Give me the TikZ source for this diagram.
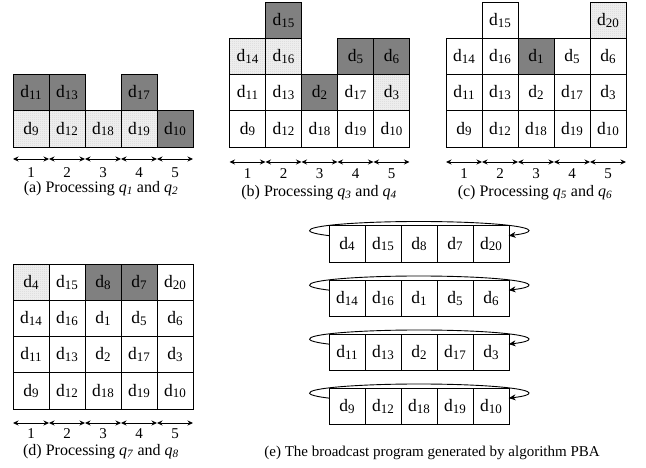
\documentclass[tikz,border=0pt]{standalone}
\usepackage{fontspec}
\setmainfont{Liberation Serif}
\usetikzlibrary{arrows.meta,calc,patterns}

% fine stipple used for the lightly shaded cells
\pgfdeclarepatternformonly{stipple}{\pgfqpoint{0pt}{0pt}}{\pgfqpoint{1.6pt}{2pt}}{\pgfqpoint{1.6pt}{2pt}}%
  {\pgfpathrectangle{\pgfqpoint{0pt}{0pt}}{\pgfqpoint{0.55pt}{1pt}}\pgfusepath{fill}}

% data item label: d with a large, slightly lowered index
\newcommand\dd[1]{d\raisebox{-1.8pt}{\fontsize{13}{13}\selectfont #1}}
\newcommand\qq[1]{\textit{q}\textsubscript{\textit{#1}}}

\tikzset{
  cell/.style={draw=black, line width=0.8pt, minimum width=36pt, minimum height=36.2pt,
    inner sep=0pt, font=\fontsize{17.5}{20}\selectfont},
  wt/.style={fill=white},
  dk/.style={fill=gray},
  lt/.style={preaction={fill=gray!14}, pattern=stipple, pattern color=gray!60},
  dim/.style={{Stealth[length=5.5pt,width=5pt]}-{Stealth[length=5.5pt,width=5pt]}, line width=0.8pt},
  num/.style={inner sep=0pt, font=\fontsize{15}{17}\selectfont},
  captxt/.style={inner sep=0pt, font=\fontsize{16}{18}\selectfont},
  cycarrow/.style={line width=0.9pt, -{Stealth[length=7pt,width=6pt]}}
}

\begin{document}
\begin{tikzpicture}[x=1pt,y=1pt]
\useasboundingbox (0,0) rectangle (646,468);

% ---------- (a) ----------
\foreach \c/\n/\st in {1/9/lt,2/12/lt,3/18/lt,4/19/lt,5/10/dk}
  \node[cell,\st] (a-1-\c) at ({31+36*(\c-1)},339.1) {\dd{\n}};
\foreach \c/\n/\st in {1/11/dk,2/13/dk,4/17/dk}
  \node[cell,\st] (a-2-\c) at ({31+36*(\c-1)},375.3) {\dd{\n}};
\foreach \i in {0,...,5} \coordinate (a-t\i) at ({13+36*\i},309);
\foreach \i [count=\j from 1] in {0,...,4}
  \draw[dim] (a-t\i) -- (a-t\j) node[midway, yshift=-13.6pt, num] (a-n\j) {\j};
\node[captxt] (a-cap) at (101,279.5) {(a) Processing \qq{1} and \qq{2}};

% ---------- (b) ----------
\foreach \c/\n/\st in {1/9/wt,2/12/wt,3/18/wt,4/19/wt,5/10/wt}
  \node[cell,\st] (b-1-\c) at ({247.5+36*(\c-1)},339.1) {\dd{\n}};
\foreach \c/\n/\st in {1/11/wt,2/13/wt,3/2/dk,4/17/wt,5/3/lt}
  \node[cell,\st] (b-2-\c) at ({247.5+36*(\c-1)},375.3) {\dd{\n}};
\foreach \c/\n/\st in {1/14/lt,2/16/lt,4/5/dk,5/6/dk}
  \node[cell,\st] (b-3-\c) at ({247.5+36*(\c-1)},411.5) {\dd{\n}};
\node[cell,dk] (b-4-2) at (283.5,447.7) {\dd{15}};
\foreach \i in {0,...,5} \coordinate (b-t\i) at ({229.5+36*\i},306);
\foreach \i [count=\j from 1] in {0,...,4}
  \draw[dim] (b-t\i) -- (b-t\j) node[midway, yshift=-11.3pt, num] (b-n\j) {\j};
\node[captxt] (b-cap) at (319,275.5) {(b) Processing \qq{3} and \qq{4}};

% ---------- (c) ----------
\foreach \c/\n/\st in {1/9/wt,2/12/wt,3/18/wt,4/19/wt,5/10/wt}
  \node[cell,\st] (c-1-\c) at ({464+36*(\c-1)},339.1) {\dd{\n}};
\foreach \c/\n/\st in {1/11/wt,2/13/wt,3/2/wt,4/17/wt,5/3/wt}
  \node[cell,\st] (c-2-\c) at ({464+36*(\c-1)},375.3) {\dd{\n}};
\foreach \c/\n/\st in {1/14/wt,2/16/wt,3/1/dk,4/5/wt,5/6/wt}
  \node[cell,\st] (c-3-\c) at ({464+36*(\c-1)},411.5) {\dd{\n}};
\node[cell,wt] (c-4-2) at (500,447.7) {\dd{15}};
\node[cell,lt] (c-4-5) at (608,447.7) {\dd{20}};
\foreach \i in {0,...,5} \coordinate (c-t\i) at ({446+36*\i},306);
\foreach \i [count=\j from 1] in {0,...,4}
  \draw[dim] (c-t\i) -- (c-t\j) node[midway, yshift=-11.3pt, num] (c-n\j) {\j};
\node[captxt] (c-cap) at (535,275.5) {(c) Processing \qq{5} and \qq{6}};

% ---------- (d) ----------
\foreach \c/\n/\st in {1/9/wt,2/12/wt,3/18/wt,4/19/wt,5/10/wt}
  \node[cell,\st] (d-1-\c) at ({31+36*(\c-1)},77.1) {\dd{\n}};
\foreach \c/\n/\st in {1/11/wt,2/13/wt,3/2/wt,4/17/wt,5/3/wt}
  \node[cell,\st] (d-2-\c) at ({31+36*(\c-1)},113.3) {\dd{\n}};
\foreach \c/\n/\st in {1/14/wt,2/16/wt,3/1/wt,4/5/wt,5/6/wt}
  \node[cell,\st] (d-3-\c) at ({31+36*(\c-1)},149.5) {\dd{\n}};
\foreach \c/\n/\st in {1/4/lt,2/15/wt,3/8/dk,4/7/dk,5/20/wt}
  \node[cell,\st] (d-4-\c) at ({31+36*(\c-1)},185.7) {\dd{\n}};
\foreach \i in {0,...,5} \coordinate (d-t\i) at ({13+36*\i},45);
\foreach \i [count=\j from 1] in {0,...,4}
  \draw[dim] (d-t\i) -- (d-t\j) node[midway, yshift=-10.6pt, num] (d-n\j) {\j};
\node[captxt] (d-cap) at (101,16.5) {(d) Processing \qq{7} and \qq{8}};

% ---------- (e) broadcast cycles ----------
\foreach \r/\y/\lst in {1/224/{4,15,8,7,20}, 2/169.5/{14,16,1,5,6},
                        3/115.5/{11,13,2,17,3}, 4/61.5/{9,12,18,19,10}} {
  \foreach \n [count=\c] in \lst
    \node[cell,wt] (e\r-\c) at ({347+36*(\c-1)},\y) {\dd{\n}};
  \coordinate (e\r-o) at ($(e\r-1.west)!0.5!(e\r-5.east)+(0,13.5)$);
  \draw[cycarrow] ($(e\r-o)+(215:109.5 and 9)$) arc[start angle=215, end angle=-35, x radius=109.5, y radius=9];
}
\node[captxt, font=\fontsize{15}{17}\selectfont] (e-cap) at (432,15) {(e) The broadcast program generated by algorithm PBA};

\end{tikzpicture}
\end{document}
